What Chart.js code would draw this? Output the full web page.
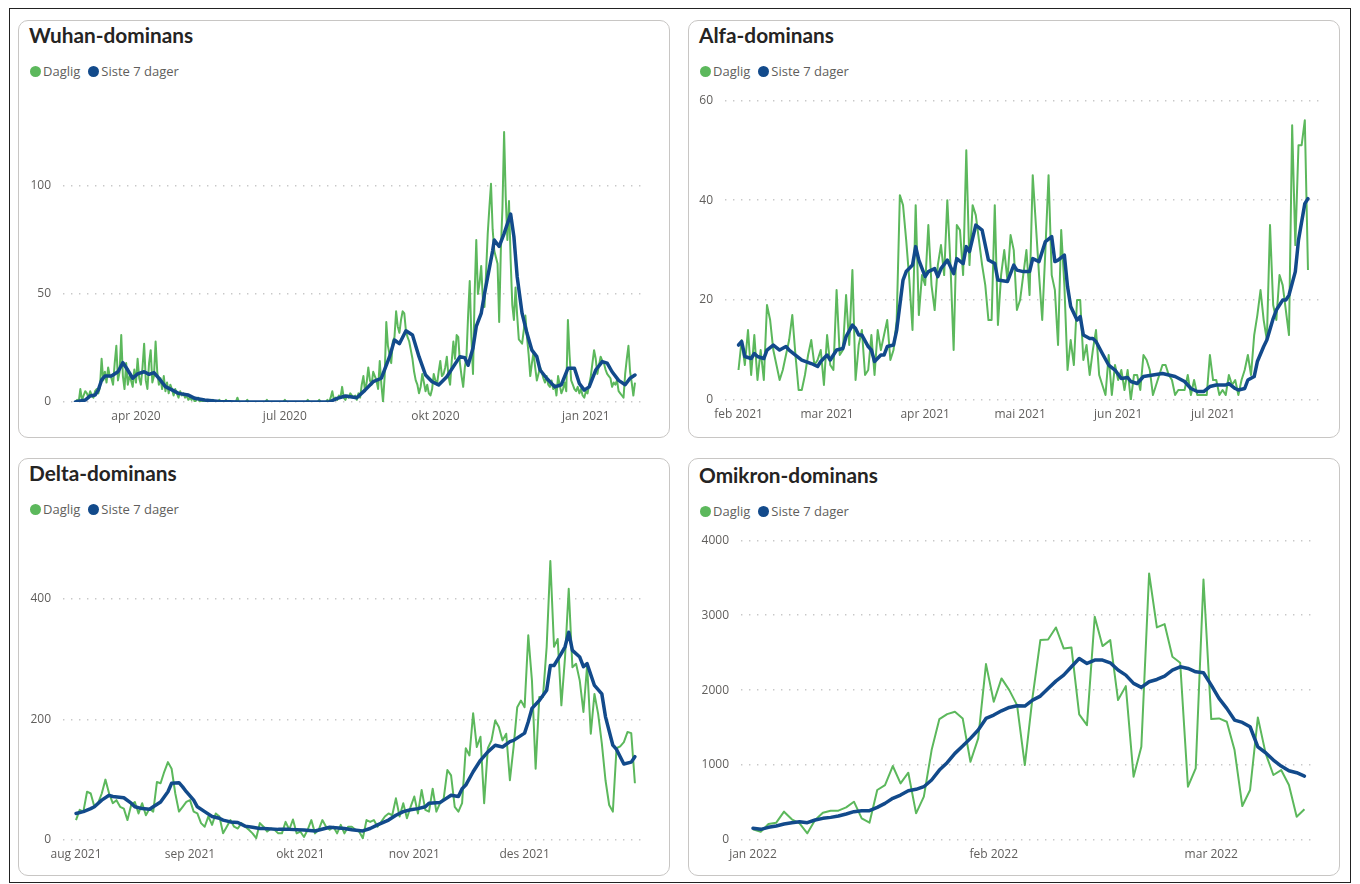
<!DOCTYPE html>
<html lang="no">
<head>
<meta charset="utf-8">
<title>Dominans</title>
<script src="https://cdn.jsdelivr.net/npm/chart.js@4.4.1/dist/chart.umd.min.js"></script>
<style>
  body { margin: 0; width: 1360px; height: 884px; background: #fff; position: relative; overflow: hidden; font-family: 'Open Sans', sans-serif; }
  .frame { position: absolute; left: 9px; top: 8px; width: 1342px; height: 875px; border: 1px solid #222; box-sizing: border-box; }
  .panel { position: absolute; width: 652px; height: 418px; border: 1px solid #c8c6c4; border-radius: 10px; box-sizing: border-box; background: #fff; }
  .title { position: absolute; font: 700 20.8px/24px Lato, sans-serif; color: #252423; white-space: nowrap; }
  .legend { position: absolute; display: flex; align-items: center; font: 13px/18px 'Open Sans', sans-serif; color: #605e5c; white-space: nowrap; }
  .legend .dot { width: 11px; height: 11px; border-radius: 50%; margin-right: 2px; }
  .legend .item { display: flex; align-items: center; margin-right: 8px; }
  canvas { position: absolute; }
</style>
</head>
<body>
<div class="frame"></div>
<script>
// ---- data: daily counts (one value per day from the start date) ----
const wuhanStart = '2020-02-24';
const wuhanDaily = [
  0,1,0,6,1,3,5,4,2,5,
  3,2,5,6,4,7,20,10,14,9,
  16,12,11,8,18,26,10,14,31,12,
  6,18,8,12,10,7,15,9,20,11,
  8,16,27,10,6,18,24,9,12,28,
  14,8,11,6,12,5,9,4,8,6,
  3,6,4,2,5,3,4,2,3,1,
  2,1,2,0,1,2,0,1,0,1,
  0,1,0,0,1,0,0,0,1,0,
  0,0,1,0,0,0,0,0,0,2,
  0,0,0,0,0,1,0,0,0,0,
  0,0,0,0,0,0,0,1,0,0,
  0,0,0,0,0,0,0,0,1,0,
  0,0,0,0,0,0,0,0,0,0,
  0,0,1,0,0,0,0,0,0,1,
  0,0,0,0,1,0,2,5,1,2,
  1,3,2,7,2,1,3,2,4,3,
  2,3,1,4,2,8,12,5,9,16,
  10,8,14,12,10,6,19,8,0,12,
  37,26,22,18,28,30,42,35,32,38,
  42,41,33,30,28,24,20,14,10,8,
  4,7,13,9,5,8,4,3,6,13,
  10,8,14,19,12,13,16,21,12,8,
  19,28,20,31,30,18,12,7,16,21,
  40,56,30,13,50,75,50,55,63,48,
  44,60,78,90,101,80,70,67,64,37,
  70,90,125,95,75,93,66,45,38,53,
  40,29,28,27,33,40,30,22,12,18,
  23,16,10,13,16,14,11,9,12,8,
  7,10,6,8,3,12,8,4,6,9,
  5,38,22,10,8,6,5,7,4,6,
  3,2,5,4,8,12,18,24,20,13,
  17,21,19,18,15,13,12,11,7,9,
  8,10,5,4,3,2,13,20,26,14,
  9,3,9
];
// 7-day line, read as [day from start, value]
const wuhanWeek = [
  [0,0],[6,0.9],[9,2.8],[12,3.2],[14,5.6],[16,10.2],[18,12],[22,12],[26,14],[29,18.2],
  [32,14.8],[35,11],[38,13],[42,14],[45,12.8],[48,13.6],[51,11],[55,7.1],[59,5.6],[63,4],
  [69,3.2],[73,1.7],[79,0.9],[88,0.2],[100,0],[130,0],[155,0],[160,1.7],[165,2.8],[172,2],
  [177,5.5],[182,9.4],[187,11],[192,21],[195,28.7],[198,27],[202,33],[206,31],[210,21],[214,12.5],
  [218,9.4],[222,7.9],[227,11.7],[231,16.4],[235,21],[238,20.5],[240,17],[243,25],[245,35],[248,41],
  [250,50],[252,58],[255,70],[256,75],[259,72],[262,78],[266,87],[268,76.5],[270,58],[273,41],
  [276,31.8],[279,24],[282,21],[284,14.8],[288,11],[293,7],[297,8],[301,15.6],[305,15.6],[308,8.6],
  [311,5.5],[314,7],[318,14.8],[322,18.7],[325,18],[328,14],[332,10],[336,8],[339,11],[342,12.5]
];
const wuhanMonths = [['2020-04-01', 'apr 2020'], ['2020-07-01', 'jul 2020'], ['2020-10-01', 'okt 2020'], ['2021-01-01', 'jan 2021']];

const alfaStart = '2021-02-01';
const alfaDaily = [
  6,12,7,14,5,13,4,10,4,19,
  16,10,7,4,6,9,12,17,9,2,
  2,5,9,12,7,8,10,3,13,7,
  6,22,9,10,21,11,26,4,11,14,
  5,6,13,5,14,10,13,16,8,10,
  16,41,39,32,24,14,39,17,25,23,
  35,23,18,27,31,25,40,27,10,35,
  34,25,50,27,39,37,32,27,23,16,
  16,39,15,25,30,24,33,30,18,20,
  25,30,21,45,35,25,16,30,45,25,
  22,11,34,23,6,12,7,20,20,8,
  11,5,10,14,5,3,1,9,1,7,
  4,6,2,6,0,5,5,2,9,8,
  6,1,3,5,7,7,5,4,1,2,
  2,2,5,1,4,1,1,1,1,9,
  4,4,1,2,1,5,3,4,1,4,
  6,9,5,13,17,22,16,12,35,19,
  16,25,23,18,13,55,31,51,51,56,
  26
];
const alfaWeek = [
  [0,11],[1,11.7],[2,8.7],[4,8.3],[5,9.3],[6,8.7],[8,8.3],[9,10],[11,11],[13,10],
  [15,10.7],[16,10],[18,9],[20,8],[23,7.3],[25,6.7],[26,7.7],[28,9],[29,8],[31,10],
  [33,10.3],[34,12.7],[36,15],[37,14.3],[38,13],[39,13],[41,10.7],[42,10],[43,7.7],[45,9],
  [46,9],[47,10.7],[49,11],[50,14],[51,19],[52,24],[53,25.7],[55,27],[56,30.7],[57,28],
  [59,24.7],[60,25.7],[62,26.3],[63,24.7],[64,26.3],[66,28],[68,25.3],[69,28.3],[71,27.3],[72,30.7],
  [73,29.7],[75,35],[77,34],[79,28],[81,27.3],[82,24],[85,23.7],[87,27],[88,26],[90,25.7],
  [92,25.7],[93,28.3],[95,27.7],[97,31.7],[99,32.7],[100,27.7],[101,28],[103,29],[104,22.7],[105,18.7],
  [107,16],[108,16.7],[109,13],[111,12.3],[112,12.3],[113,11.7],[115,9.3],[117,7],[119,6],[121,4.3],
  [123,4.5],[124,3.7],[126,3.3],[128,4.7],[131,5],[134,5.3],[136,5],[138,4.7],[141,3.7],[143,2.3],
  [145,1.7],[147,1.7],[149,2.7],[151,3],[154,3],[155,3.3],[157,2.3],[158,2],[160,2.3],[161,4],
  [163,4.7],[164,7.7],[166,10.7],[167,12],[169,16.3],[170,18],[172,20],[173,20],[174,21],[176,25.7],
  [177,32],[179,39.3],[180,40.3]
];
const alfaMonths = [['2021-02-01', 'feb 2021'], ['2021-03-01', 'mar 2021'], ['2021-04-01', 'apr 2021'], ['2021-05-01', 'mai 2021'], ['2021-06-01', 'jun 2021'], ['2021-07-01', 'jul 2021']];

const deltaStart = '2021-08-01';
const deltaDaily = [
  33,50,47,80,77,55,61,77,100,77,
  61,66,55,52,33,58,63,44,61,41,
  52,47,96,94,113,129,118,77,47,55,
  63,66,47,44,28,22,39,25,44,39,
  11,22,33,22,19,28,22,17,11,3,
  28,22,14,19,17,11,11,30,17,34,
  11,14,5,17,33,11,17,33,22,17,
  22,11,25,11,22,22,17,14,3,33,
  30,33,22,30,39,44,41,69,39,61,
  36,55,72,44,83,50,47,85,47,61,
  69,116,107,55,47,61,152,140,210,154,
  171,61,152,165,198,187,165,176,99,154,
  220,231,220,339,264,118,237,237,320,462,
  320,333,223,303,416,286,292,264,212,289,
  176,242,209,160,99,58,47,152,155,162,
  179,177,94
];
const deltaWeek = [
  [0,44],[2,47],[4,52],[5,55],[7,66],[9,74],[10,72],[13,70],[15,61],[16,55],
  [18,52],[20,51],[21,55],[23,63],[25,80],[26,94],[28,95],[29,88],[30,80],[32,66],
  [33,55],[35,47],[37,39],[39,36],[40,33],[42,30],[44,29],[46,23],[48,21],[50,19],
  [51,19],[55,17.6],[58,17.6],[62,16.5],[65,15],[69,21],[73,19],[75,17],[78,15],[80,19],
  [82,25],[85,33],[87,41],[89,47],[91,50],[93,52],[95,55],[96,61],[99,62],[100,66],
  [102,74],[104,72],[105,85],[106,91],[108,113],[110,132],[112,146],[114,157],[116,154],[118,163],
  [119,165],[122,177],[123,196],[124,218],[126,231],[128,248],[129,289],[130,289],[132,309],[133,320],
  [134,344],[135,314],[137,303],[138,287],[139,292],[141,256],[143,242],[144,204],[146,157],[147,150],
  [149,126],[151,129],[152,138]
];
const deltaMonths = [['2021-08-01', 'aug 2021'], ['2021-09-01', 'sep 2021'], ['2021-10-01', 'okt 2021'], ['2021-11-01', 'nov 2021'], ['2021-12-01', 'des 2021']];

const omikronStart = '2022-01-01';
const omikronDaily = [
  142,111,213,231,378,276,222,89,267,364,
  391,391,436,511,289,231,667,733,987,756,
  898,356,578,1200,1613,1680,1711,1622,1044,1356,
  2347,1844,2156,2000,1800,1000,1911,2667,2676,2836,
  2556,2569,1676,1533,2978,2587,2667,1867,2053,844,
  1244,3556,2836,2880,2444,2364,711,956,3476,1613,
  1622,1578,1200,453,667,1636,1156,867,933,733,
  311,409
];
const omikronWeekValues = [
  156,142,169,187,213,231,244,231,267,289,
  302,320,347,378,391,391,436,489,556,600,
  658,676,711,800,933,1031,1156,1253,1356,1467,
  1622,1667,1724,1769,1791,1787,1867,1920,2022,2120,
  2200,2311,2422,2356,2400,2400,2364,2267,2200,2089,
  2036,2111,2142,2187,2267,2311,2289,2244,2231,2067,
  1889,1756,1600,1569,1511,1244,1164,1067,987,924,
  898,853
];
const omikronWeek = omikronWeekValues.map((v, i) => [i, v]);
const omikronMonths = [['2022-01-01', 'jan 2022'], ['2022-02-01', 'feb 2022'], ['2022-03-01', 'mar 2022']];

const seriesNames = ['Daglig', 'Siste 7 dager'];

// ---- style ----
const GREEN = '#5cb85c';
const NAVY = '#124a8b';
const TICK_COLOR = '#605e5c';
const GRID_COLOR = '#c8c8c8';


function dayOffset(start, date) {
    const a = start.split('-').map(Number);
    const b = date.split('-').map(Number);
    return (Date.UTC(b[0], b[1] - 1, b[2]) - Date.UTC(a[0], a[1] - 1, a[2])) / 864e5;
}


function addBox(cls, left, top, width, height) {
    const el = document.createElement('div');
    el.className = cls;
    el.style.left = left + 'px';
    el.style.top = top + 'px';
    if (width) el.style.width = width + 'px';
    if (height) el.style.height = height + 'px';
    document.body.appendChild(el);
    return el;
}


function addHeader(panel) {
    const shift = panel.headerShift || 0;
    const title = addBox('title', panel.x + 11, panel.y + 3 + shift);
    title.textContent = panel.title;

    const legend = addBox('legend', panel.x + 12, panel.y + 42 + shift);
    legend.innerHTML =
        `<span class="item"><span class="dot" style="background:${GREEN}"></span>${seriesNames[0]}</span>` +
        `<span class="item"><span class="dot" style="background:${NAVY}"></span>${seriesNames[1]}</span>`;
}


function chartConfig(panel) {
    const months = panel.months.map(m => ({ value: dayOffset(panel.start, m[0]), label: m[1] }));
    const tickFont = { family: "'Open Sans', sans-serif", size: 12 };
    return {
        type: 'line',
        data: {
            datasets: [{
                label: seriesNames[1],
                data: panel.week.map(p => ({ x: p[0], y: p[1] })),
                borderColor: NAVY,
                borderWidth: 3.5,
                pointRadius: 0,
                tension: 0,
                borderJoinStyle: 'round',
                borderCapStyle: 'round'
            }, {
                label: seriesNames[0],
                data: panel.daily.map((v, i) => ({ x: i, y: v })),
                borderColor: GREEN,
                borderWidth: 2,
                pointRadius: 0,
                tension: 0,
                borderJoinStyle: 'round'
            }]
        },
        options: {
            responsive: false,
            animation: false,
            devicePixelRatio: 1,
            layout: { padding: { top: 10, right: 10, left: 0, bottom: 0 } },
            plugins: { legend: { display: false }, tooltip: { enabled: false } },
            scales: {
                x: {
                    type: 'linear',
                    min: panel.xMin,
                    max: panel.xMax,
                    grid: { display: false, drawTicks: false },
                    border: { display: false },
                    afterBuildTicks: scale => { scale.ticks = months.map(m => ({ value: m.value })); },
                    afterFit: scale => { scale.height = 30; },
                    ticks: {
                        autoSkip: false,
                        maxRotation: 0,
                        padding: 7,
                        color: TICK_COLOR,
                        font: tickFont,
                        callback: v => (months.find(m => m.value === v) || {}).label || ''
                    }
                },
                y: {
                    min: 0,
                    max: panel.yMax,
                    grid: { color: GRID_COLOR, lineWidth: 1.4, drawTicks: false },
                    border: { display: false, dash: [1.4, 6.6] },
                    afterFit: scale => { scale.width = 50; },
                    ticks: {
                        stepSize: panel.yStep,
                        includeBounds: false,
                        padding: 12,
                        color: TICK_COLOR,
                        font: tickFont,
                        callback: v => String(v)
                    }
                }
            }
        }
    };
}


function placeCanvas(geo) {
    const canvas = document.createElement('canvas');
    canvas.width = geo.width;
    canvas.height = geo.height;
    canvas.style.left = geo.left + 'px';
    canvas.style.top = geo.top + 'px';
    canvas.style.width = geo.width + 'px';
    canvas.style.height = geo.height + 'px';
    document.body.appendChild(canvas);
    return canvas;
}


function drawPanel(panel) {
    addBox('panel', panel.x, panel.y, 652, 418);
    addHeader(panel);

    // first pass: measure where Chart.js puts the plot area, then fit the canvas so it lands on panel.area
    const area = panel.area;
    let geo = { left: area.left - 50, top: area.top - 10, width: area.right - area.left + 60, height: area.bottom - area.top + 40 };
    let canvas = placeCanvas(geo);
    let chart = new Chart(canvas.getContext('2d'), chartConfig(panel));
    const ca = chart.chartArea;
    chart.destroy();
    canvas.remove();

    geo = {
        left: Math.round(area.left - ca.left),
        top: Math.round(area.top - ca.top),
        width: Math.round(geo.width + (area.right - area.left) - (ca.right - ca.left)),
        height: Math.round(geo.height + (area.bottom - area.top) - (ca.bottom - ca.top))
    };
    canvas = placeCanvas(geo);
    new Chart(canvas.getContext('2d'), chartConfig(panel));
}


const panels = [
    { title: 'Wuhan-dominans', x: 18, y: 20, start: wuhanStart, daily: wuhanDaily, week: wuhanWeek, months: wuhanMonths,
      area: { left: 63, right: 643, top: 121, bottom: 402 }, xMin: -7.6, xMax: 346.9, yMax: 130, yStep: 50 },
    { title: 'Alfa-dominans', x: 688, y: 20, start: alfaStart, daily: alfaDaily, week: alfaWeek, months: alfaMonths,
      area: { left: 725, right: 1320, top: 100, bottom: 400 }, xMin: -4.27, xMax: 183.8, yMax: 60, yStep: 20 },
    { title: 'Delta-dominans', x: 18, y: 458, start: deltaStart, daily: deltaDaily, week: deltaWeek, months: deltaMonths,
      area: { left: 63, right: 643, top: 550, bottom: 840 }, xMin: -3.54, xMax: 154.2, yMax: 480, yStep: 200 },
    { title: 'Omikron-dominans', x: 688, y: 458, headerShift: 2, start: omikronStart, daily: omikronDaily, week: omikronWeek, months: omikronMonths,
      area: { left: 741, right: 1313, top: 540, bottom: 840 }, xMin: -1.54, xMax: 72.1, yMax: 4000, yStep: 1000 }
];

panels.forEach(drawPanel);
</script>
</body>
</html>
